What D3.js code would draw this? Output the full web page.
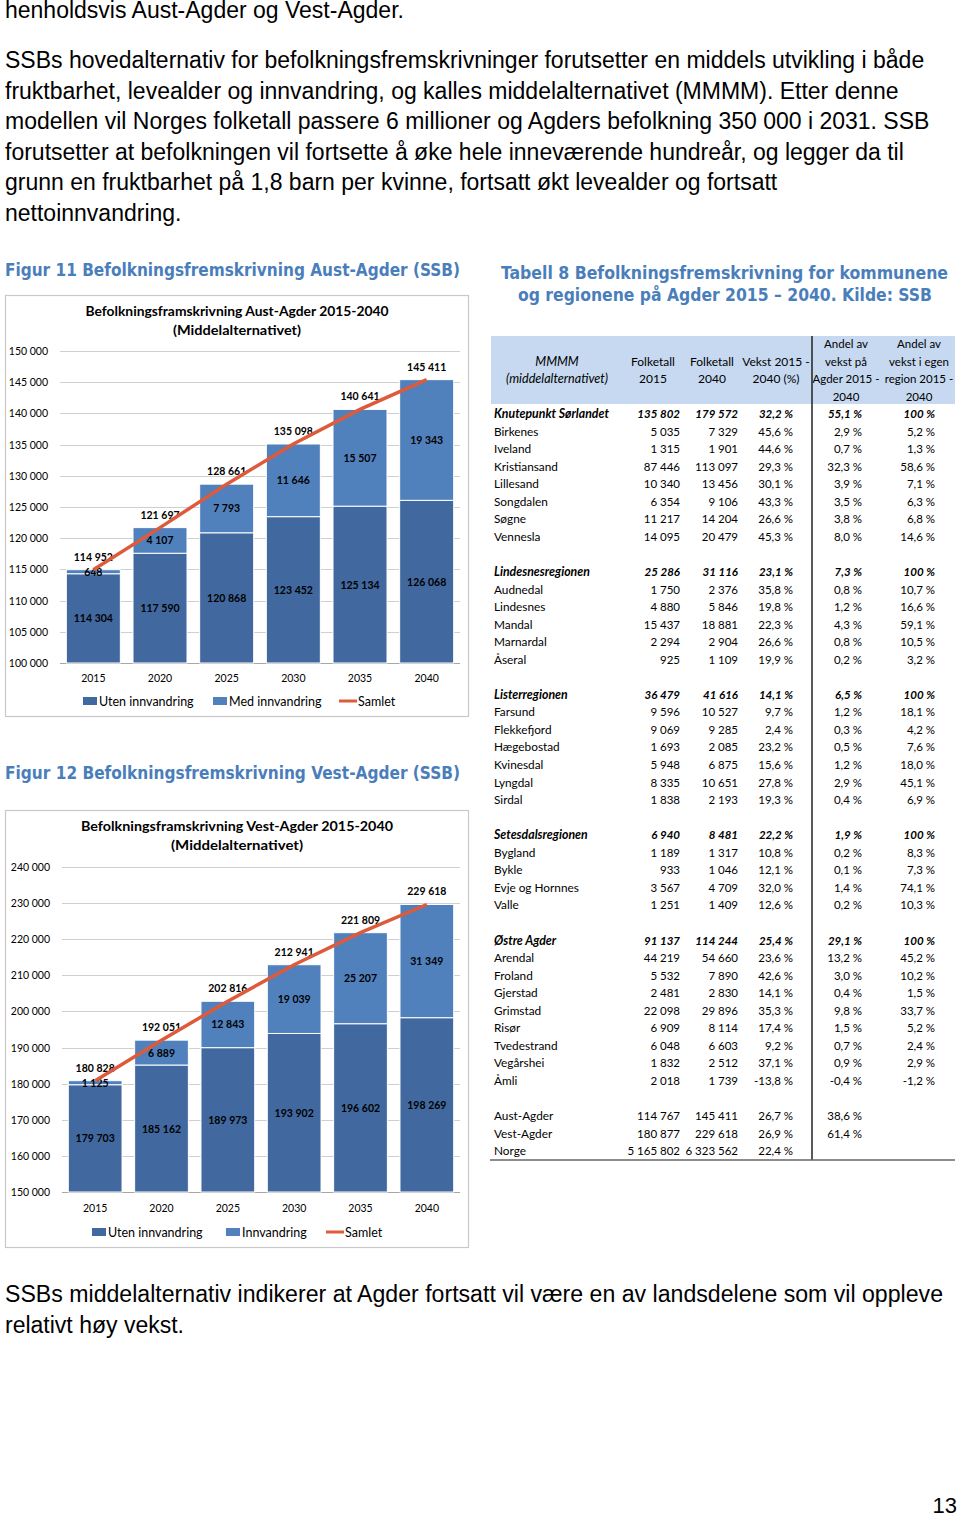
<!DOCTYPE html>
<html><head><meta charset="utf-8">
<script src="https://cdn.jsdelivr.net/npm/d3@7"></script>
<style>body{margin:0;background:#fff}svg{display:block}</style>
</head><body><svg id="page" width="960" height="1518"></svg>
<script>
// ---------- DATA ----------
const years = ["2015", "2020", "2025", "2030", "2035", "2040"];
const austUten = [114304, 117590, 120868, 123452, 125134, 126068];
const austMed = [648, 4107, 7793, 11646, 15507, 19343];
const austSamlet = [114952, 121697, 128661, 135098, 140641, 145411];
const austTicks = [100000, 105000, 110000, 115000, 120000, 125000, 130000, 135000, 140000, 145000, 150000];
const austLegend = ["Uten innvandring", "Med innvandring", "Samlet"];

const vestUten = [179703, 185162, 189973, 193902, 196602, 198269];
const vestInnv = [1125, 6889, 12843, 19039, 25207, 31349];
const vestSamlet = [180828, 192051, 202816, 212941, 221809, 229618];
const vestTicks = [150000, 160000, 170000, 180000, 190000, 200000, 210000, 220000, 230000, 240000];
const vestLegend = ["Uten innvandring", "Innvandring", "Samlet"];

const introLines = [
  "henholdsvis Aust-Agder og Vest-Agder.",
  "SSBs hovedalternativ for befolkningsfremskrivninger forutsetter en middels utvikling i både",
  "fruktbarhet, levealder og innvandring, og kalles middelalternativet (MMMM). Etter denne",
  "modellen vil Norges folketall passere 6 millioner og Agders befolkning 350 000 i 2031. SSB",
  "forutsetter at befolkningen vil fortsette å øke hele inneværende hundreår, og legger da til",
  "grunn en fruktbarhet på 1,8 barn per kvinne, fortsatt økt levealder og fortsatt",
  "nettoinnvandring."
];
const outroLines = [
  "SSBs middelalternativ indikerer at Agder fortsatt vil være en av landsdelene som vil oppleve",
  "relativt høy vekst."
];

const tableHeaders = [
  ["MMMM", "(middelalternativet)"],
  ["Folketall", "2015"],
  ["Folketall", "2040"],
  ["Vekst 2015 -", "2040 (%)"],
  ["Andel av", "vekst på", "Agder 2015 -", "2040"],
  ["Andel av", "vekst i egen", "region 2015 -", "2040"]
];
// name, folketall 2015, folketall 2040, vekst %, andel Agder %, andel region %, region-row
const knutepunkt = [
  ["Knutepunkt Sørlandet", 135802, 179572, 32.2, 55.1, 100, true],
  ["Birkenes", 5035, 7329, 45.6, 2.9, 5.2],
  ["Iveland", 1315, 1901, 44.6, 0.7, 1.3],
  ["Kristiansand", 87446, 113097, 29.3, 32.3, 58.6],
  ["Lillesand", 10340, 13456, 30.1, 3.9, 7.1],
  ["Songdalen", 6354, 9106, 43.3, 3.5, 6.3],
  ["Søgne", 11217, 14204, 26.6, 3.8, 6.8],
  ["Vennesla", 14095, 20479, 45.3, 8.0, 14.6]
];
const lindesnes = [
  ["Lindesnesregionen", 25286, 31116, 23.1, 7.3, 100, true],
  ["Audnedal", 1750, 2376, 35.8, 0.8, 10.7],
  ["Lindesnes", 4880, 5846, 19.8, 1.2, 16.6],
  ["Mandal", 15437, 18881, 22.3, 4.3, 59.1],
  ["Marnardal", 2294, 2904, 26.6, 0.8, 10.5],
  ["Åseral", 925, 1109, 19.9, 0.2, 3.2]
];
const lister = [
  ["Listerregionen", 36479, 41616, 14.1, 6.5, 100, true],
  ["Farsund", 9596, 10527, 9.7, 1.2, 18.1],
  ["Flekkefjord", 9069, 9285, 2.4, 0.3, 4.2],
  ["Hægebostad", 1693, 2085, 23.2, 0.5, 7.6],
  ["Kvinesdal", 5948, 6875, 15.6, 1.2, 18.0],
  ["Lyngdal", 8335, 10651, 27.8, 2.9, 45.1],
  ["Sirdal", 1838, 2193, 19.3, 0.4, 6.9]
];
const setesdal = [
  ["Setesdalsregionen", 6940, 8481, 22.2, 1.9, 100, true],
  ["Bygland", 1189, 1317, 10.8, 0.2, 8.3],
  ["Bykle", 933, 1046, 12.1, 0.1, 7.3],
  ["Evje og Hornnes", 3567, 4709, 32.0, 1.4, 74.1],
  ["Valle", 1251, 1409, 12.6, 0.2, 10.3]
];
const ostre = [
  ["Østre Agder", 91137, 114244, 25.4, 29.1, 100, true],
  ["Arendal", 44219, 54660, 23.6, 13.2, 45.2],
  ["Froland", 5532, 7890, 42.6, 3.0, 10.2],
  ["Gjerstad", 2481, 2830, 14.1, 0.4, 1.5],
  ["Grimstad", 22098, 29896, 35.3, 9.8, 33.7],
  ["Risør", 6909, 8114, 17.4, 1.5, 5.2],
  ["Tvedestrand", 6048, 6603, 9.2, 0.7, 2.4],
  ["Vegårshei", 1832, 2512, 37.1, 0.9, 2.9],
  ["Åmli", 2018, 1739, -13.8, -0.4, -1.2]
];
const totals = [
  ["Aust-Agder", 114767, 145411, 26.7, 38.6, null],
  ["Vest-Agder", 180877, 229618, 26.9, 61.4, null],
  ["Norge", 5165802, 6323562, 22.4, null, null]
];

// ---------- HELPERS ----------
const svg = d3.select("#page");
svg.append("rect").attr("width", 960).attr("height", 1518).attr("fill", "#fff");
const fmtNum = v => d3.format(",")(v).replace(/,/g, "\u202f");
const fmtPct = v => (v === 100 ? "100" : d3.format(".1f")(v).replace(".", ",").replace("\u2212", "-")) + "\u202f%";
const BLUE = "#4a7ebb";
const DARK = "#41699f";
const LIGHT = "#5181bd";
const RED = "#dd5a3a";

// ---------- BODY TEXT ----------
const introBase = [17.5, 68, 98.5, 129, 159.5, 190, 220.5];
svg.append("g").selectAll("text").data(introLines).join("text")
  .attr("x", 5).attr("y", (d, i) => introBase[i])
  .attr("font-family", "Liberation Sans, Arial, sans-serif").attr("font-size", 23)
  .attr("fill", "#000").text(d => d);

const outroBase = [1302, 1333];
const outroLen = [938, 179];
svg.append("g").selectAll("text").data(outroLines).join("text")
  .attr("x", 5).attr("y", (d, i) => outroBase[i])
  .attr("font-family", "Liberation Sans Narrow, Arial Narrow, sans-serif").attr("font-size", 23)
  .attr("textLength", (d, i) => outroLen[i]).attr("lengthAdjust", "spacingAndGlyphs")
  .attr("fill", "#000").text(d => d);

svg.append("text").attr("x", 957).attr("y", 1513).attr("text-anchor", "end")
  .attr("font-family", "Liberation Sans Narrow, sans-serif").attr("font-size", 22).text("13");

// ---------- CAPTIONS ----------
function caption(txt, x, y, len) {
  svg.append("text").attr("x", x).attr("y", y)
    .attr("font-family", "DejaVu Sans Condensed, DejaVu Sans, sans-serif").attr("font-weight", "bold")
    .attr("font-size", 17.5).attr("fill", BLUE)
    .attr("textLength", len).attr("lengthAdjust", "spacingAndGlyphs").text(txt);
}
caption("Figur 11 Befolkningsfremskrivning Aust-Agder (SSB)", 5, 276, 455);
caption("Figur 12 Befolkningsfremskrivning Vest-Agder (SSB)", 5, 779, 455);
caption("Tabell 8 Befolkningsfremskrivning for kommunene", 501, 279, 447);
caption("og regionene på Agder 2015 – 2040. Kilde: SSB", 518, 301, 414);

// ---------- CHARTS ----------
function drawChart(cfg) {
  const g = svg.append("g");
  g.append("rect").attr("x", cfg.box[0] + 0.5).attr("y", cfg.box[1] + 0.5)
    .attr("width", cfg.box[2]).attr("height", cfg.box[3])
    .attr("fill", "#fff").attr("stroke", "#c8c8c8").attr("stroke-width", 1.2);
  cfg.title.forEach((t, i) => {
    g.append("text").attr("x", 237).attr("y", cfg.titleY[i]).attr("text-anchor", "middle")
      .attr("font-family", "Lato, sans-serif").attr("font-weight", "bold")
      .attr("font-size", cfg.titleSize).attr("fill", "#000")
      .attr("textLength", cfg.titleLen[i]).attr("lengthAdjust", "spacingAndGlyphs").text(t);
  });
  const y = d3.scaleLinear().domain(cfg.domain).range(cfg.yRange);
  const x = d3.scaleBand().domain(years).range(cfg.xRange).paddingInner(0.19).paddingOuter(0.095);
  // gridlines + tick labels
  g.append("g").selectAll("line").data(cfg.ticks).join("line")
    .attr("x1", cfg.xRange[0]).attr("x2", cfg.xRange[1])
    .attr("y1", d => Math.round(y(d)) + 0.5).attr("y2", d => Math.round(y(d)) + 0.5)
    .attr("stroke", (d, i) => i === 0 ? "#a6a6a6" : "#cfcfcf").attr("stroke-width", 1);
  g.append("g").selectAll("text").data(cfg.ticks).join("text")
    .attr("x", cfg.tickX).attr("y", d => y(d) + 4).attr("text-anchor", "end")
    .attr("font-family", "Lato, sans-serif").attr("font-size", 10.5).attr("fill", "#000")
    .text(d => fmtNum(d));
  // bars
  const bars = g.append("g");
  years.forEach((yr, i) => {
    const base = cfg.domain[0];
    const u = cfg.uten[i], m = cfg.med[i];
    bars.append("rect").attr("x", x(yr)).attr("width", x.bandwidth())
      .attr("y", y(u)).attr("height", y(base) - y(u))
      .attr("fill", DARK).attr("stroke", "#fff").attr("stroke-width", 1);
    bars.append("rect").attr("x", x(yr)).attr("width", x.bandwidth())
      .attr("y", y(u + m)).attr("height", y(u) - y(u + m))
      .attr("fill", LIGHT).attr("stroke", "#fff").attr("stroke-width", 1);
  });
  // segment labels
  const lab = g.append("g").attr("font-family", "Lato, sans-serif").attr("font-weight", "bold")
    .attr("font-size", 10.5).attr("fill", "#000").attr("text-anchor", "middle");
  years.forEach((yr, i) => {
    const cx = x(yr) + x.bandwidth() / 2;
    const u = cfg.uten[i], m = cfg.med[i];
    lab.append("text").attr("x", cx).attr("y", (y(cfg.domain[0]) + y(u)) / 2 + 4).text(fmtNum(u));
    lab.append("text").attr("x", cx).attr("y", (y(u) + y(u + m)) / 2 + 4).text(fmtNum(m));
  });
  // line
  const line = d3.line().x((d, i) => x(years[i]) + x.bandwidth() / 2).y(d => y(d));
  g.append("path").datum(cfg.total).attr("d", line).attr("fill", "none")
    .attr("stroke", RED).attr("stroke-width", 3.5).attr("stroke-linecap", "butt");
  years.forEach((yr, i) => {
    lab.append("text").attr("x", x(yr) + x.bandwidth() / 2).attr("y", y(cfg.total[i]) - 9)
      .text(fmtNum(cfg.total[i]));
  });
  // x labels
  g.append("g").selectAll("text").data(years).join("text")
    .attr("x", d => x(d) + x.bandwidth() / 2).attr("y", cfg.xLabelY).attr("text-anchor", "middle")
    .attr("font-family", "Lato, sans-serif").attr("font-size", 10.5).text(d => d);
  // legend
  const lg = g.append("g").attr("font-family", "Lato, sans-serif").attr("font-size", 12.5).attr("fill", "#000");
  const ly = cfg.legendY;
  lg.append("rect").attr("x", cfg.legX[0]).attr("y", ly - 4).attr("width", 14).attr("height", 8).attr("fill", DARK);
  lg.append("text").attr("x", cfg.legX[0] + 16).attr("y", ly + 4.5).text(cfg.legend[0]);
  lg.append("rect").attr("x", cfg.legX[1]).attr("y", ly - 4).attr("width", 14).attr("height", 8).attr("fill", LIGHT);
  lg.append("text").attr("x", cfg.legX[1] + 16).attr("y", ly + 4.5).text(cfg.legend[1]);
  lg.append("line").attr("x1", cfg.legX[2]).attr("x2", cfg.legX[2] + 18).attr("y1", ly).attr("y2", ly)
    .attr("stroke", RED).attr("stroke-width", 3);
  lg.append("text").attr("x", cfg.legX[2] + 19).attr("y", ly + 4.5).text(cfg.legend[2]);
}

drawChart({
  box: [5, 295, 463, 421],
  title: ["Befolkningsframskrivning Aust-Agder 2015-2040", "(Middelalternativet)"],
  titleY: [316, 335], titleLen: [303, 128], titleSize: 13,
  domain: [100000, 150000], yRange: [663, 351], xRange: [60, 460], ticks: austTicks, tickX: 48,
  uten: austUten, med: austMed, total: austSamlet,
  xLabelY: 682, legendY: 701, legX: [83, 213, 339], legend: austLegend
});
drawChart({
  box: [5, 810, 463, 437],
  title: ["Befolkningsframskrivning Vest-Agder 2015-2040", "(Middelalternativet)"],
  titleY: [831, 850], titleLen: [312, 132], titleSize: 13.5,
  domain: [150000, 240000], yRange: [1192, 867], xRange: [62, 460], ticks: vestTicks, tickX: 50,
  uten: vestUten, med: vestInnv, total: vestSamlet,
  xLabelY: 1212, legendY: 1232, legX: [92, 226, 326], legend: vestLegend
});

// ---------- TABLE ----------
const tg = svg.append("g").attr("font-family", "Lato, sans-serif").attr("font-size", 11.5).attr("fill", "#000");
tg.append("rect").attr("x", 491).attr("y", 336).attr("width", 464).attr("height", 68).attr("fill", "#c6d9f0");
const headCx = [557, 653, 712, 776, 846, 919];
const headSize = [12.6, 12, 12, 12, 11.5, 11.5];
tableHeaders.forEach((lines, c) => {
  const ys = lines.length === 2 ? [362, 379] : [344, 362, 379, 397];
  lines.forEach((t, k) => {
    tg.append("text").attr("x", headCx[c]).attr("y", ys[k] + 4).attr("text-anchor", "middle")
      .attr("font-size", headSize[c])
      .attr("font-style", c === 0 ? "italic" : "normal").text(t);
  });
});
const groups = [knutepunkt, lindesnes, lister, setesdal, ostre, totals];
const rows = [];
groups.forEach((gr, gi) => { gr.forEach(r => rows.push(r)); if (gi < groups.length - 1) rows.push(null); });
const colRight = [680, 738, 793, 862, 935];
const rowY = i => 414 + i * 17.55 + 4;
rows.forEach((r, i) => {
  if (!r) return;
  const bold = r[6] === true;
  const row = tg.append("g").attr("font-weight", bold ? "bold" : "normal").attr("font-style", bold ? "italic" : "normal");
  row.append("text").attr("x", 494).attr("y", rowY(i)).attr("font-size", bold ? 12.3 : 11.8).text(r[0]);
  const vals = [fmtNum(r[1]), fmtNum(r[2]), fmtPct(r[3]), r[4] == null ? "" : fmtPct(r[4]), r[5] == null ? "" : fmtPct(r[5])];
  vals.forEach((v, c) => {
    row.append("text").attr("x", colRight[c]).attr("y", rowY(i)).attr("text-anchor", "end").text(v);
  });
});
tg.append("line").attr("x1", 812).attr("x2", 812).attr("y1", 336).attr("y2", 1160).attr("stroke", "#222").attr("stroke-width", 1.5);
tg.append("line").attr("x1", 490).attr("x2", 955).attr("y1", 1160).attr("y2", 1160).attr("stroke", "#666").attr("stroke-width", 1.5);
</script></body></html>
